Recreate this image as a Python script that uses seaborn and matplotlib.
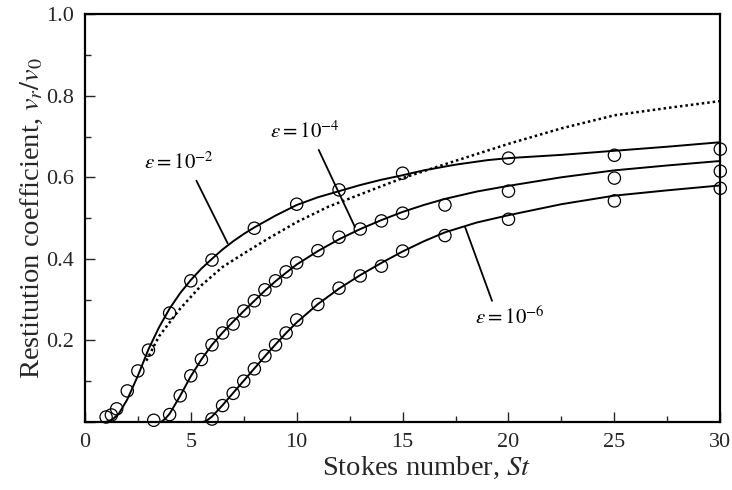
import matplotlib
matplotlib.use("Agg")
import matplotlib.pyplot as plt
import matplotlib.ticker as mticker
import seaborn as sns

# ── data ──────────────────────────────────────────────────────────────────────
# measured restitution coefficients (open circles)
st_e2 = [1.0, 1.25, 1.5, 2.0, 2.5, 3.0, 4.0, 5.0, 6.0, 8.0, 10.0, 12.0, 15.0, 20.0, 25.0, 30.0]
vr_e2 = [0.012, 0.017, 0.032, 0.076, 0.125, 0.176, 0.267, 0.346, 0.397, 0.475, 0.534,
         0.569, 0.610, 0.647, 0.654, 0.669]

st_e4 = [3.25, 4.0, 4.5, 5.0, 5.5, 6.0, 6.5, 7.0, 7.5, 8.0, 8.5, 9.0, 9.5, 10.0,
         11.0, 12.0, 13.0, 14.0, 15.0, 17.0, 20.0, 25.0, 30.0]
vr_e4 = [0.004, 0.018, 0.064, 0.113, 0.153, 0.189, 0.218, 0.240, 0.272, 0.297, 0.324,
         0.346, 0.368, 0.390, 0.420, 0.453, 0.473, 0.493, 0.512, 0.532, 0.566, 0.598, 0.615]

st_e6 = [6.0, 6.5, 7.0, 7.5, 8.0, 8.5, 9.0, 9.5, 10.0, 11.0, 12.0, 13.0, 14.0, 15.0,
         17.0, 20.0, 25.0, 30.0]
vr_e6 = [0.007, 0.040, 0.070, 0.100, 0.130, 0.162, 0.189, 0.218, 0.250, 0.288, 0.328,
         0.358, 0.382, 0.419, 0.457, 0.497, 0.542, 0.573]

# model curves (solid)
st_line_e2 = [1.0, 1.3, 1.6, 2.0, 2.5, 3.0, 3.5, 4.0, 4.5, 5.0, 5.5, 6.0, 6.5, 7.0, 7.5,
              8.0, 9.0, 10.0, 11.0, 12.0, 13.0, 14.0, 15.0, 16.0, 17.5, 19.0, 20.0,
              22.5, 25.0, 27.5, 30.0]
vr_line_e2 = [0.0, 0.006, 0.020, 0.055, 0.113, 0.178, 0.232, 0.278, 0.316, 0.348, 0.376,
              0.400, 0.423, 0.443, 0.461, 0.477, 0.506, 0.532, 0.551, 0.566, 0.581, 0.594,
              0.605, 0.617, 0.631, 0.642, 0.647, 0.655, 0.665, 0.675, 0.686]

st_line_e4 = [3.6, 3.8, 4.0, 4.5, 5.0, 5.5, 6.0, 6.5, 7.0, 7.5, 8.0, 8.5, 9.0, 9.5, 10.0,
              11.0, 12.0, 13.0, 14.0, 15.0, 16.0, 17.0, 18.5, 20.0, 22.5, 25.0, 27.5, 30.0]
vr_line_e4 = [0.0, 0.008, 0.020, 0.064, 0.112, 0.153, 0.189, 0.219, 0.246, 0.272, 0.297,
              0.322, 0.345, 0.366, 0.386, 0.419, 0.448, 0.473, 0.495, 0.515, 0.532, 0.547,
              0.565, 0.579, 0.600, 0.617, 0.629, 0.640]

st_line_e6 = [5.6, 5.8, 6.0, 6.5, 7.0, 7.5, 8.0, 8.5, 9.0, 9.5, 10.0, 11.0, 12.0, 13.0,
              14.0, 15.0, 16.0, 17.0, 18.5, 20.0, 22.5, 25.0, 27.5, 30.0]
vr_line_e6 = [0.0, 0.005, 0.013, 0.041, 0.071, 0.101, 0.131, 0.161, 0.190, 0.218, 0.244,
              0.289, 0.327, 0.360, 0.390, 0.418, 0.443, 0.465, 0.489, 0.507, 0.534, 0.555,
              0.568, 0.580]

# dotted curve
st_dot = [2.9, 3.5, 4.5, 5.5, 6.5, 7.5, 8.5, 10.0, 11.5, 13.0, 15.0, 17.0, 20.0,
          22.5, 25.0, 27.5, 30.0]
vr_dot = [0.15, 0.21, 0.278, 0.335, 0.38, 0.413, 0.445, 0.49, 0.528, 0.558, 0.598,
          0.632, 0.682, 0.72, 0.752, 0.77, 0.787]

# ── style ─────────────────────────────────────────────────────────────────────
sns.set_theme(style="ticks")
plt.rcParams["font.family"] = ["Liberation Serif", "DejaVu Serif"]
plt.rcParams["mathtext.fontset"] = "stix"

fig = plt.figure(figsize=(7.32, 4.90), dpi=100)
ax = fig.add_axes([0.116, 0.139, 0.868, 0.832])

line_kw = dict(color="black", lw=1.4, sort=False, estimator=None, ax=ax)
sns.lineplot(x=st_line_e2, y=vr_line_e2, **line_kw)
sns.lineplot(x=st_line_e4, y=vr_line_e4, **line_kw)
sns.lineplot(x=st_line_e6, y=vr_line_e6, **line_kw)
sns.lineplot(x=st_dot, y=vr_dot, color="black", lw=1.8, linestyle=(0, (1, 1.2)),
             sort=False, estimator=None, ax=ax)

for xs, ys in [(st_e2, vr_e2), (st_e4, vr_e4), (st_e6, vr_e6)]:
    sns.scatterplot(x=xs, y=ys, marker="o", s=78, facecolors="none",
                    edgecolor="black", linewidth=0.9, ax=ax, clip_on=False, zorder=3)

# labels with leader lines
txt_kw = dict(fontsize=15, color="black", ha="center", va="center")
leader = dict(arrowstyle="-", color="black", lw=1.3, shrinkB=0)
ax.annotate(r"$\epsilon = 10^{-2}$", xy=(6.74, 0.438), xytext=(4.44, 0.635),
            arrowprops=dict(relpos=(0.7, 0.0), shrinkA=3, **leader), **txt_kw)
ax.annotate(r"$\epsilon = 10^{-4}$", xy=(12.75, 0.478), xytext=(10.39, 0.711),
            arrowprops=dict(relpos=(0.65, 0.0), shrinkA=3, **leader), **txt_kw)
ax.annotate(r"$\epsilon = 10^{-6}$", xy=(17.95, 0.478), xytext=(20.08, 0.255),
            arrowprops=dict(relpos=(0.27, 1.0), shrinkA=2, **leader), **txt_kw)

ax.set_xlim(0, 30)
ax.set_ylim(0, 1.0)
ax.xaxis.set_major_locator(mticker.MultipleLocator(5))
ax.xaxis.set_minor_locator(mticker.MultipleLocator(2.5))
ax.yaxis.set_major_locator(mticker.MultipleLocator(0.2))
ax.yaxis.set_minor_locator(mticker.MultipleLocator(0.1))
ax.yaxis.set_major_formatter(mticker.FuncFormatter(lambda v, p: "" if v < 0.01 else f"{v:.1f}"))
ax.tick_params(which="both", direction="in", top=False, right=False,
               labelsize=16, width=1.0)
ax.tick_params(which="major", length=7, pad=8)
ax.tick_params(which="minor", length=4)
for sp in ax.spines.values():
    sp.set_visible(True)
    sp.set_linewidth(1.6)
    sp.set_color("black")

ax.set_xlabel(r"Stokes number, $St$", fontsize=20.5)
ax.xaxis.set_label_coords(0.537, -0.08)
ax.set_ylabel(r"Restitution coefficient, $v_r/v_0$", fontsize=20.5, labelpad=1)

fig.savefig("out.png", dpi=100)
